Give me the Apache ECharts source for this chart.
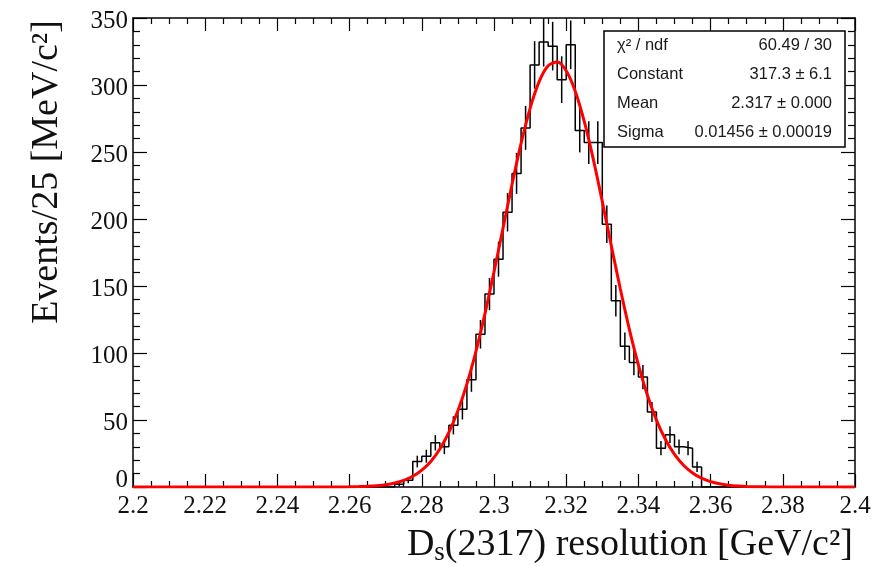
<!DOCTYPE html>
<html><head><meta charset="utf-8">
<script src="https://cdn.jsdelivr.net/npm/echarts@6/dist/echarts.min.js"></script>
<style>html,body{margin:0;padding:0;background:#fff}#c{width:883px;height:566px}</style>
</head><body><div id="c"></div>
<script>
// Histogram: left edges of non-empty bins (bin width 0.0025 GeV) and their counts
const binWidth = 0.0025;
const xRange = [2.2, 2.4];
const binLeft = [2.2725, 2.275, 2.2775, 2.28, 2.2825, 2.285, 2.2875, 2.29, 2.2925, 2.295,
                 2.2975, 2.3, 2.3025, 2.305, 2.3075, 2.31, 2.3125, 2.315, 2.3175, 2.32,
                 2.3225, 2.325, 2.3275, 2.33, 2.3325, 2.335, 2.3375, 2.34, 2.3425, 2.345,
                 2.3475, 2.35, 2.3525, 2.355];
const counts  = [2, 5, 19, 23, 33, 30, 46, 58, 80, 114,
                 144, 170, 205, 234, 268, 315, 332, 329, 304, 330,
                 266, 257, 257, 196, 139, 105, 93, 82, 56, 29,
                 39, 30, 29, 15];
// Red fit curve
const fitX = [2.2, 2.25, 2.255, 2.26, 2.2625, 2.265, 2.2675, 2.27, 2.2725, 2.275, 2.2775, 2.28,
              2.2825, 2.285, 2.2875, 2.29, 2.2925, 2.295, 2.2975, 2.3, 2.3025, 2.305, 2.3075,
              2.31, 2.3125, 2.315, 2.3175, 2.32, 2.3225, 2.325, 2.3275, 2.33, 2.3325, 2.335,
              2.3375, 2.34, 2.3425, 2.345, 2.3475, 2.35, 2.3525, 2.355, 2.3575, 2.36, 2.3625,
              2.365, 2.3675, 2.37, 2.375, 2.38, 2.4];
const fitY = [0, 0.01, 0.04, 0.15, 0.29, 0.54, 0.98, 1.7, 3.0, 5.0, 8.0, 12.6,
              19.1, 28.4, 40.7, 56.9, 77.0, 101.3, 129.4, 160.5, 193.2, 225.9, 256.4,
              282.6, 302.5, 314.3, 317.1, 310.6, 295.4, 272.8, 244.7, 213.0, 180.0, 147.8,
              117.7, 91.1, 68.5, 49.9, 35.4, 24.3, 16.2, 10.5, 6.6, 4.05, 2.4,
              1.38, 0.77, 0.42, 0.1, 0.02, 0];
const statsLabels = ['χ² / ndf', 'Constant', 'Mean', 'Sigma'];
const statsValues = ['60.49 / 30', '317.3 ± 6.1', '2.317 ± 0.000', '0.01456 ± 0.00019'];
const xTitle = ['D', 's', '(2317) resolution [GeV/c²]'];
const yTitle = 'Events/25 [MeV/c²]';

// build step outline
const step = [[xRange[0], 0], [binLeft[0], 0]];
binLeft.forEach((l, i) => { step.push([l, counts[i]]); step.push([l + binWidth, counts[i]]); });
step.push([binLeft[binLeft.length - 1] + binWidth, 0]);
step.push([xRange[1], 0]);
const errData = binLeft.map((l, i) => [l + binWidth / 2, counts[i]]);
const fitData = fitX.map((x, i) => [x, fitY[i]]);

const serif = 'Liberation Serif';
const sans = 'Liberation Sans';
const tickStyle = { color: '#000', width: 1.2 };
const baseX = {
  type: 'value', min: xRange[0], max: xRange[1], interval: 0.02,
  axisLine: { show: true, onZero: false, lineStyle: { color: '#000', width: 1.5 } },
  axisTick: { show: true, inside: true, length: 13, lineStyle: tickStyle },
  minorTick: { show: true, splitNumber: 4, length: 6, lineStyle: tickStyle },
  splitLine: { show: false }
};
const baseY = {
  type: 'value', min: 0, max: 350, interval: 50,
  axisLine: { show: true, onZero: false, lineStyle: { color: '#000', width: 1.5 } },
  axisTick: { show: true, inside: true, length: 14, lineStyle: tickStyle },
  minorTick: { show: true, splitNumber: 5, length: 7, lineStyle: tickStyle },
  splitLine: { show: false }
};

const chart = echarts.init(document.getElementById('c'), null, { renderer: 'canvas' });
const statsGraphics = [{
  type: 'rect', z: 100, shape: { x: 604, y: 31, width: 241, height: 116 },
  style: { fill: '#fff', stroke: '#000', lineWidth: 1.5 }
}];
statsLabels.forEach((t, i) => {
  const yc = 45.5 + i * 29.1;
  statsGraphics.push({ type: 'text', z: 101, x: 617, y: yc,
    style: { text: t, font: '16.5px "' + sans + '"', fill: '#1a1a1a', textAlign: 'left', textVerticalAlign: 'middle' } });
  statsGraphics.push({ type: 'text', z: 101, x: 832, y: yc,
    style: { text: statsValues[i], font: '16.5px "' + sans + '"', fill: '#1a1a1a', textAlign: 'right', textVerticalAlign: 'middle' } });
});

chart.setOption({
  animation: false,
  backgroundColor: '#fff',
  grid: { left: 133, right: 28, top: 18, bottom: 79, containLabel: false },
  xAxis: [
    Object.assign({}, baseX, { position: 'bottom',
      axisLabel: { show: true, margin: 7, fontFamily: serif, fontSize: 25, color: '#111',
        formatter: v => String(+v.toFixed(3)) } }),
    Object.assign({}, baseX, { position: 'top', axisLabel: { show: false } })
  ],
  yAxis: [
    Object.assign({}, baseY, { position: 'left',
      axisLabel: { show: true, margin: 5, fontFamily: serif, fontSize: 25, color: '#111',
        formatter: v => v === 0 ? '{z|0}' : '{n|' + v + '}',
        rich: { z: { fontFamily: serif, fontSize: 25, color: '#111', padding: [0, 0, 14, 0] },
                n: { fontFamily: serif, fontSize: 25, color: '#111', padding: [6, 0, 0, 0] } } } }),
    Object.assign({}, baseY, { position: 'right', axisLabel: { show: false } })
  ],
  series: [
    { type: 'line', data: step, showSymbol: false, symbol: 'none', z: 2,
      lineStyle: { color: '#000', width: 1.5 }, xAxisIndex: 0, yAxisIndex: 0 },
    { type: 'custom', data: errData, z: 3, clip: true, xAxisIndex: 0, yAxisIndex: 0,
      renderItem: (params, api) => {
        const x = api.value(0), c = api.value(1), e = Math.sqrt(c);
        const p1 = api.coord([x, c + e]), p2 = api.coord([x, c - e]);
        return { type: 'line', shape: { x1: p1[0], y1: p1[1], x2: p2[0], y2: p2[1] },
                 style: { stroke: '#000', lineWidth: 1.5 } };
      } },
    { type: 'line', data: fitData, showSymbol: false, symbol: 'none', smooth: 0.3, z: 4,
      lineStyle: { color: '#ff0000', width: 3 }, xAxisIndex: 0, yAxisIndex: 0 }
  ],
  graphic: statsGraphics.concat([
    { type: 'text', z: 50, x: 853, y: 526,
      style: {
        text: '{a|' + xTitle[0] + '}{s|' + xTitle[1] + '}{a|' + xTitle[2] + '}',
        textAlign: 'right', textVerticalAlign: 'top', fill: '#111',
        rich: {
          a: { fontFamily: serif, fontSize: 38, lineHeight: 40, verticalAlign: 'top', fill: '#111' },
          s: { fontFamily: serif, fontSize: 27, lineHeight: 27, verticalAlign: 'bottom', padding: [27, 0, 0, 0], fill: '#111' }
        }
      } },
    { type: 'text', z: 50, x: 47, y: 172, rotation: Math.PI / 2,
      style: { text: yTitle, font: '38px "' + serif + '"', fill: '#111', textAlign: 'center', textVerticalAlign: 'middle' } }
  ])
});
</script></body></html>
